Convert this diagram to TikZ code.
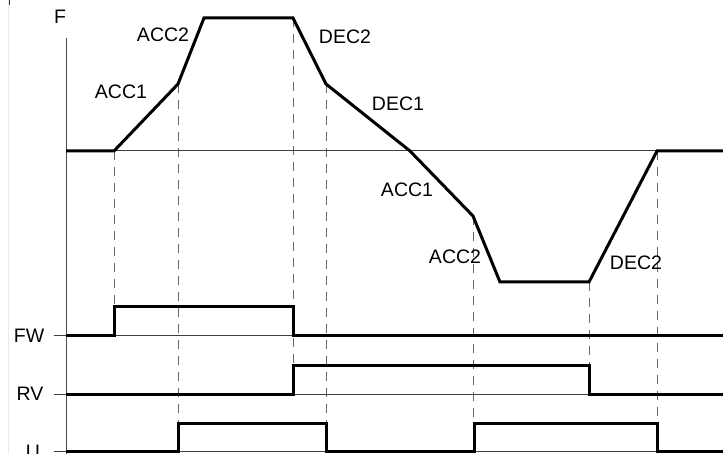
\documentclass[tikz,border=0pt]{standalone}
\usepackage{fontspec}
\setmainfont{Liberation Sans}
\begin{document}
\begin{tikzpicture}[x=1pt,y=-1pt,
  heavy/.style={line width=3pt, line join=miter, line cap=butt},
  fine/.style={line width=1pt, draw=black!75},
  axisline/.style={line width=1pt, draw=black!70},
  dashline/.style={dash pattern=on 9pt off 7pt, draw=black!60, line width=1pt},
  lbl/.style={font=\fontsize{19.5}{22}\selectfont, inner sep=0pt}]
\useasboundingbox (0,0) rectangle (723,454);
% faint edge artefacts
\draw[black!8, line width=1pt] (8,0) -- (8,454);
\draw[black!80, line width=1pt] (9,0) -- (9,5);
% curve points
\coordinate (p0) at (66,151);
\coordinate (p1) at (114,151);
\coordinate (p2) at (178,84);
\coordinate (p3) at (204,18);
\coordinate (p4) at (293,18);
\coordinate (p5) at (326,84);
\coordinate (p6) at (410,151);
\coordinate (p7) at (473,216);
\coordinate (p8) at (500,282);
\coordinate (p9) at (589,282);
\coordinate (p10) at (657,151);
\coordinate (p11) at (723,151);
% edge points on signals
\coordinate (e1) at (114,307);
\coordinate (e2) at (178,423);
\coordinate (e4) at (293,365);
\coordinate (e5) at (326,423);
\coordinate (e7) at (473,423);
\coordinate (e9) at (589,365);
\coordinate (e10) at (657,423);
% dashed guides
\draw[dashline] (p1) -- (e1);
\draw[dashline] (p2) -- (e2);
\draw[dashline] (p4) -- (e4);
\draw[dashline] (p5) -- (e5);
\draw[dashline] (p7) -- (e7);
\draw[dashline] (p9) -- (e9);
\draw[dashline] (p10) -- (e10);
% axis and baselines
\coordinate (atop) at (66,38);
\coordinate (abot) at (66,454);
\draw[axisline] (atop) -- (abot);
\draw[fine] (p0) -- (p11);
\coordinate (fwa) at (54,336); \coordinate (fwb) at (723,336);
\coordinate (rva) at (54,394); \coordinate (rvb) at (723,394);
\coordinate (ua) at (54,451); \coordinate (ub) at (723,451);
\draw[fine] (fwa) -- (fwb);
\draw[fine] (rva) -- (rvb);
\draw[fine] (ua) -- (ub);
% frequency curve
\draw[heavy] (p0) -- (p1) -- (p2) -- (p3) -- (p4) -- (p5) -- (p6) -- (p7) -- (p8) -- (p9) -- (p10) -- (p11);
% signals
\draw[heavy] (66,336) -- (114,336) -- (114,307) -- (293,307) -- (293,336) -- (723,336);
\draw[heavy] (66,394) -- (293,394) -- (293,365) -- (589,365) -- (589,394) -- (723,394);
\draw[heavy] (66,451) -- (178,451) -- (178,423) -- (326,423) -- (326,451) -- (474,451) -- (474,423) -- (657,423) -- (657,451) -- (723,451);
% labels
\node[lbl] (lF) at (60,17) {F};
\node[lbl] (lacc2a) at (163,35) {ACC2};
\node[lbl] (lacc1a) at (121,92) {ACC1};
\node[lbl] (ldec2a) at (345,37) {DEC2};
\node[lbl] (ldec1) at (398,104) {DEC1};
\node[lbl] (lacc1b) at (407,190) {ACC1};
\node[lbl] (lacc2b) at (455,257) {ACC2};
\node[lbl] (ldec2b) at (636,263) {DEC2};
\node[lbl] (lFW) at (29,336) {FW};
\node[lbl] (lRV) at (30,394) {RV};
\node[lbl] (lU) at (33,452) {U};
\end{tikzpicture}
\end{document}
